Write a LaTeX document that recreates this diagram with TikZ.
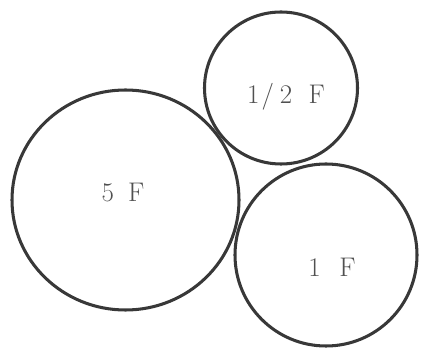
\documentclass[tikz,border=0pt]{standalone}
\usepackage{tikz}
\usetikzlibrary{shapes.geometric}

\definecolor{ink}{HTML}{383838}
\definecolor{lbl}{HTML}{505050}

\tikzset{
  disc/.style={draw=ink, line width=2.6pt, ellipse, inner sep=0pt},
  disclabel/.style={font=\fontsize{23}{26}\selectfont, text=lbl},
}

\begin{document}
\begin{tikzpicture}[x=0.03cm, y=-0.03cm]
    \useasboundingbox (0,0) rectangle (421,349);

    % capacitor discs
    \node[disc, minimum width=227*0.03cm, minimum height=220*0.03cm] (big) at (125.5,200) {};
    \node[disc, minimum width=153*0.03cm, minimum height=152*0.03cm] (half) at (281,88) {};
    \node[disc, minimum width=182*0.03cm, minimum height=182*0.03cm] (one) at (326,255) {};

    % values
    \node[disclabel] (bigL) at (123,193) {5\hspace{12pt}F};
    \node[disclabel] (halfL) at (286,97) {1\hspace{2pt}/\hspace{5pt}2\hspace{14pt}F};
    \node[disclabel] (oneL) at (332,267) {1\hspace{16pt}F};
\end{tikzpicture}
\end{document}
